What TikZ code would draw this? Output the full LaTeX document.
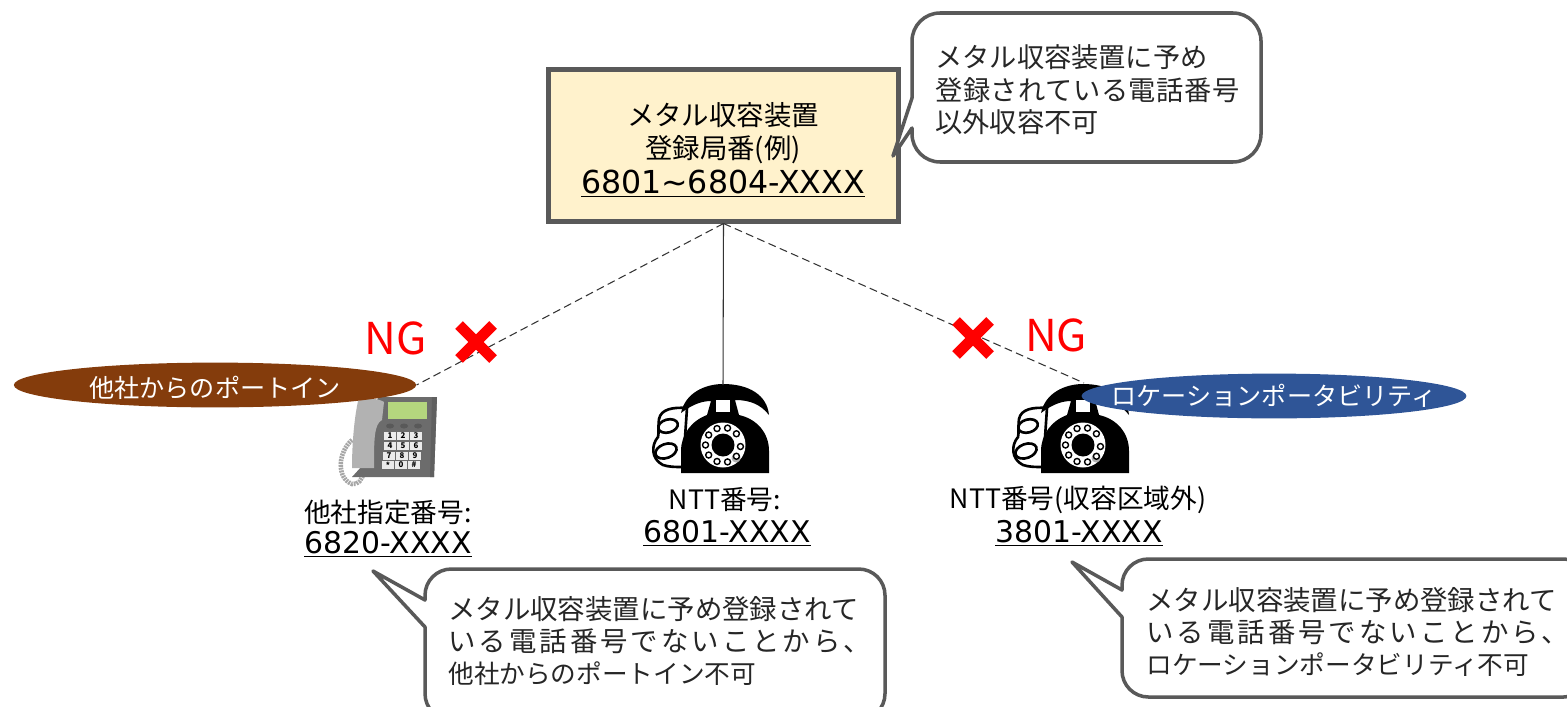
\documentclass[tikz,border=0pt]{standalone}
\usepackage{fontspec}
\usepackage{xcolor}
\setmainfont{Noto Sans CJK JP}
\newfontfamily\numfont{DejaVu Sans}
\usetikzlibrary{shapes.geometric}

\definecolor{boxfill}{HTML}{FFF2CC}
\definecolor{edgegray}{HTML}{595959}
\definecolor{portbrown}{HTML}{843C0C}
\definecolor{locblue}{HTML}{2F5597}
\definecolor{ngred}{HTML}{FF0000}
\definecolor{screengreen}{HTML}{B4D67E}

\tikzset{
  bubble/.style={draw=edgegray, line width=2pt, fill=white, line join=round},
  bubbletext/.style={anchor=west, align=left, inner sep=0pt, text=black!85, font=\fontsize{15.5}{18.4}\selectfont},
  numtext/.style={inner sep=0pt, align=center, font=\fontsize{15.2}{17}\selectfont},
  numline/.style={inner sep=0pt, font=\numfont\fontsize{17}{19}\selectfont},
  tagshape/.style={ellipse, minimum height=25.5pt, inner sep=0pt},
  tagtext/.style={inner sep=0pt, text=white, font=\fontsize{14.3}{18}\selectfont},
  ngtext/.style={inner sep=0pt, text=ngred, font=\fontsize{25}{28}\selectfont},
  linkline/.style={line width=0.6pt, black!80},
  linkdash/.style={linkline, dash pattern=on 4.5pt off 2.5pt},
}

% rotary telephone, origin at the middle of its base
\newcommand{\rotaryphone}[1]{
  \begin{scope}[shift={(#1)}]
    % cord
    \draw[line width=1.5pt, fill=white] (-36,-65) .. controls (-50,-66) and (-62,-64) .. (-64,-54)
      .. controls (-65,-46) and (-64,-40) .. (-65,-36)
      .. controls (-72,-28) and (-72,-14) .. (-60,-8) .. controls (-54,-6) and (-48,-6) .. (-40,-6) -- cycle;
    \draw[line width=1.5pt, rotate around={15:(-55,-47)}] (-55,-47) ellipse (10 and 6.5);
    \draw[line width=1.5pt, rotate around={20:(-57,-22)}] (-57,-22) ellipse (11 and 7);
    % handset and body
    \fill[black] (-42,-60) .. controls (-38,-80) and (-18,-89) .. (0,-89)
      .. controls (26,-89) and (44,-78) .. (46,-58)
      .. controls (38,-68) and (28,-73) .. (12,-73) -- (16,-58)
      .. controls (34,-54) and (46,-40) .. (46,-22) -- (46,0) -- (-42,0) -- (-42,-22)
      .. controls (-42,-38) and (-32,-52) .. (-16,-58) -- (-12,-72)
      .. controls (-24,-72) and (-34,-66) .. (-42,-60) -- cycle;
    \fill[white] (-7,-73) rectangle (7,-61);
    % dial
    \fill[white] (0,-28) circle (22.5);
    \fill[black] (0,-28) circle (11.5);
    \fill[gray!60] (13,-15) circle (4.5);
    \foreach \ang in {5,40,75,110,145,180,215,250,285,320}{
      \draw[line width=0.8pt, fill=white] (0,-28) ++(\ang:17.5) circle (3);
    }
  \end{scope}
}

\begin{document}
\begin{tikzpicture}[x=0.02cm,y=-0.02cm]
    \useasboundingbox (0,0) rectangle (1567,706);

    % Telephones
    \rotaryphone{723,473}
    \rotaryphone{1083,473}

    % Push button telephone
    \draw[line width=2.6pt, gray!70, dash pattern=on 1.1pt off 0.5pt] (352,440) .. controls (338,452) and (336,478) .. (352,484) .. controls (358,485) and (362,480) .. (364,472);
    \fill[gray!85!black] (378,397) -- (437,397) -- (434,477) -- (352,477) -- (362,466) -- cycle;
    \fill[black!25!gray] (432,397) -- (437,397) -- (434,477) -- (430,477) -- cycle;
    \fill[gray!60] (358,401) .. controls (366,398) and (378,398) .. (384,402) -- (382,420) .. controls (374,424) and (374,440) .. (374,468) -- (352,468) .. controls (352,445) and (354,420) .. (358,401) -- cycle;
    \fill[screengreen] (388,402) rectangle (427,419);
    \foreach \bx in {390,404,418}{
      \fill[black!65] (\bx,426) ellipse (4 and 2.5);
    }
    \foreach \kx/\ky/\klabel in {390/436/1,403/436/2,416/436/3,390/446/4,403/446/5,416/446/6,389/456/7,402/456/8,415/456/9,388/465/*,401/465/0,414/465/\#}{
      \node[fill=black!8, inner sep=0pt, minimum width=6.6pt, minimum height=5pt, font=\fontsize{4.5}{5}\selectfont\bfseries] (key\kx-\ky) at (\kx,\ky) {\klabel};
    }

    % Tags on the lines
    \node[tagshape, fill=portbrown, minimum width=229pt] (portin) at (215,385) {};
    \node[tagtext] (portlabel) at (215,388) {他社からのポートイン};
    \node[tagshape, fill=locblue, minimum width=219pt] (locport) at (1274,396) {};
    \node[tagtext] (loclabel) at (1274,396) {ロケーションポータビリティ};

    % Accommodation unit
    \node[draw=edgegray, line width=2.8pt, fill=boxfill, minimum width=199pt, minimum height=86pt, inner sep=0pt] (unit) at (723.5,145.5) {};
    \node[numtext, font=\fontsize{15.6}{17}\selectfont] (unitname) at (723,115) {メタル収容装置};
    \node[numtext, font=\fontsize{15.6}{17}\selectfont] (unitcode) at (723,150) {登録局番(例)};
    \node[numline, font=\numfont\fontsize{18}{20}\selectfont] (unitrange) at (723,184) {\underline{6801\textasciitilde 6804-XXXX}};

    % Lines to the telephones
    \coordinate (phonetop) at (723,385);
    \coordinate (loctop) at (1084,383);
    \draw[linkdash] (unit.south) -- (portin.east);
    \draw[linkline] (unit.south) -- (phonetop);
    \draw[linkdash] (unit.south) -- (loctop);

    % NG marks
    \foreach \cname/\cx/\cy in {crossleft/476/342,crossright/973/338}{
      \coordinate (\cname) at (\cx,\cy);
      \draw[ngred, line width=6.2pt] (\cx-17,\cy-17) -- (\cx+17,\cy+17);
      \draw[ngred, line width=6.2pt] (\cx-17,\cy+17) -- (\cx+17,\cy-17);
    }
    \node[ngtext] (ngleft) at (396,338) {NG};
    \node[ngtext] (ngright) at (1056,335) {NG};

    % Numbers
    \node[numtext] (othername) at (388,512) {他社指定番号:};
    \node[numline] (othernum) at (388,544) {\underline{6820-XXXX}};
    \node[numtext] (nttname) at (725,500) {NTT番号:};
    \node[numline] (nttnum) at (727,533) {\underline{6801-XXXX}};
    \node[numtext] (outname) at (1078,500) {NTT番号(収容区域外)};
    \node[numline] (outnum) at (1079,533) {\underline{3801-XXXX}};

    % Speech bubbles
    \draw[bubble] (893,156) -- (912,98) [rounded corners=16pt] -- (912,13) -- (1261,13) -- (1261,162) -- (912,162) [sharp corners] -- (912,128) -- cycle;
    \node[bubbletext] (notetop) at (935,90) {メタル収容装置に予め\\{\addfontfeature{LetterSpace=2}登録されている電話番号}\\以外収容不可};

    \draw[bubble] (373,571) -- (425,600) [rounded corners=15pt] -- (425,569) -- (885,569) -- (885,720) -- (425,720) [sharp corners] -- (425,627) -- cycle;
    \node[bubbletext] (noteleft) at (448,641) {{\fontsize{15.6}{18.4}\selectfont メタル収容装置に予め登録されて}\\{\fontsize{15.6}{18.4}\selectfont\addfontfeature{LetterSpace=11}いる電話番号でないことから、}\\{\fontsize{14.6}{18.4}\selectfont 他社からのポートイン不可}};

    \draw[bubble] (1072,562) -- (1122,590) [rounded corners=15pt] -- (1122,559) -- (1590,559) -- (1590,697) -- (1122,697) [sharp corners] -- (1122,617) -- cycle;
    \node[bubbletext] (noteright) at (1146,632) {{\fontsize{15.6}{18.4}\selectfont メタル収容装置に予め登録されて}\\{\fontsize{15.6}{18.4}\selectfont\addfontfeature{LetterSpace=11}いる電話番号でないことから、}\\{\fontsize{14.6}{18.4}\selectfont ロケーションポータビリティ不可}};
\end{tikzpicture}
\end{document}
